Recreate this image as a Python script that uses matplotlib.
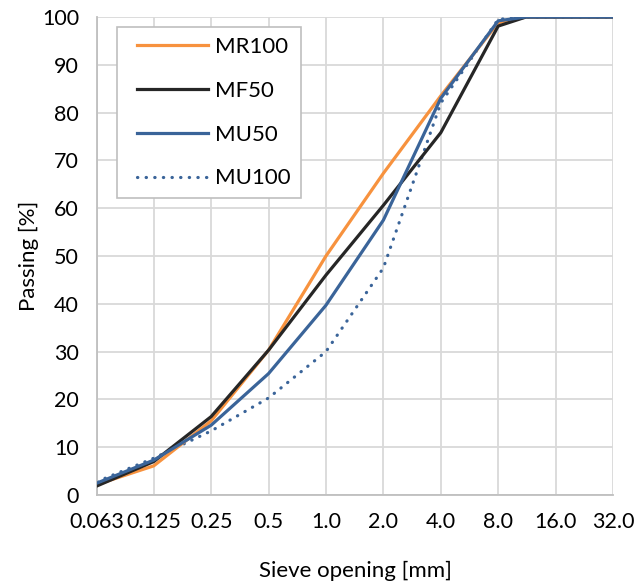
import numpy as np
import matplotlib.pyplot as plt
from matplotlib.lines import Line2D
from matplotlib.legend_handler import HandlerLine2D

plt.rcParams['font.family'] = ['Lato', 'DejaVu Sans']

# sieve openings [mm] and passing [%]
sieve = [0.063, 0.125, 0.25, 0.5, 1.0, 2.0, 4.0, 8.0, 11.2, 16.0, 32.0]
tick_labels = ['0.063', '0.125', '0.25', '0.5', '1.0', '2.0', '4.0', '8.0', '16.0', '32.0']
tick_pos = [0.063, 0.125, 0.25, 0.5, 1.0, 2.0, 4.0, 8.0, 16.0, 32.0]

mr100 = [2.2, 6.1, 15.5, 30.3, 50.0, 67.3, 83.5, 98.8, 100, 100, 100]
mf50 = [1.9, 7.0, 16.4, 30.3, 46.0, 60.6, 75.8, 98.1, 100, 100, 100]
mu50 = [2.5, 7.3, 14.6, 25.4, 39.7, 57.5, 83.0, 99.2, 100, 100, 100]
mu100 = [2.8, 7.7, 13.4, 20.3, 30.0, 47.5, 82.0, 99.5, 100, 100, 100]

fig = plt.figure(figsize=(6.43, 5.84), dpi=100)
ax = fig.add_axes([97 / 643, 89 / 584, 516 / 643, 478 / 584])

ax.plot(sieve, mr100, color='#F7923E', lw=2.3, label='MR100', zorder=3)
ax.plot(sieve, mf50, color='#262626', lw=2.3, label='MF50', zorder=4)
ax.plot(sieve, mu50, color='#3A6499', lw=2.3, label='MU50', zorder=5)
ax.plot(sieve, mu100, color='#3A6499', lw=2.3, label='MU100', zorder=2,
        linestyle=(0, (0.1, 2.6)), dash_capstyle='round')

ax.set_xscale('log', base=2)
ax.set_xlim(0.063, 32)
ax.set_ylim(0, 100)
ax.set_xticks(tick_pos)
ax.set_xticklabels(tick_labels)
ax.minorticks_off()
ax.set_yticks(np.arange(0, 101, 10))

ax.grid(True, color='#D9D9D9', lw=1.3)
ax.set_axisbelow(True)
for s in ['top', 'right']:
    ax.spines[s].set_visible(False)
for s in ['left', 'bottom']:
    ax.spines[s].set_color('#BFBFBF')
    ax.spines[s].set_linewidth(1.3)

ax.tick_params(axis='both', length=0, labelsize=15.5, colors='#000000')
ax.tick_params(axis='y', pad=13)
ax.tick_params(axis='x', pad=12)

ax.set_xlabel('Sieve opening [mm]', fontsize=16, labelpad=21)
ax.set_ylabel('Passing [%]', fontsize=16, labelpad=2)

leg = ax.legend(loc='upper left', bbox_to_anchor=(0.039, 0.979), fontsize=16,
                handlelength=3.65, handletextpad=0.3, labelspacing=1.07,
                borderpad=0.45, borderaxespad=0, fancybox=False, framealpha=1,
                handler_map={Line2D: HandlerLine2D(xpad=0.45)})
leg.get_frame().set_edgecolor('#BFBFBF')
leg.get_frame().set_linewidth(1.2)

fig.savefig('out.png', dpi=100)
